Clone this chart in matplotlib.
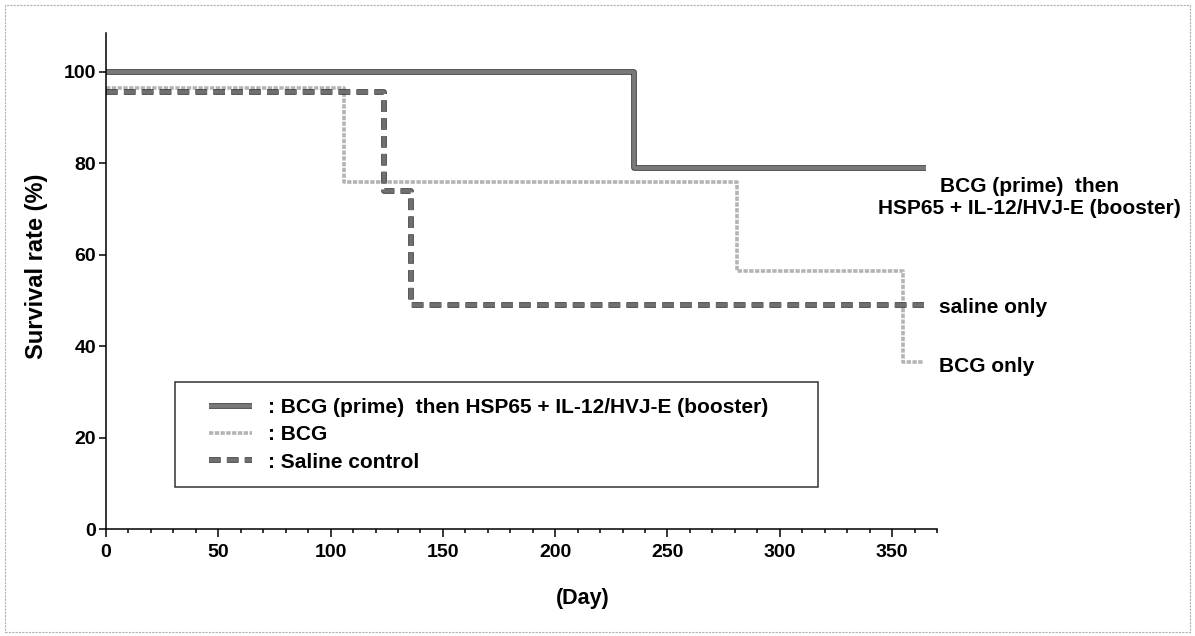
import matplotlib
matplotlib.use("Agg")
import matplotlib.pyplot as plt
import matplotlib.patheffects as pe
from matplotlib.lines import Line2D
from matplotlib.patches import Rectangle
from matplotlib.legend_handler import HandlerLine2D
from matplotlib.ticker import MultipleLocator

# Kaplan-Meier style survival data
vaccine_days = [0, 235, 365]
vaccine_surv = [100, 79, 79]

bcg_days = [0, 106, 281, 355, 364]
bcg_surv = [96.5, 76, 56.5, 36.5, 36.5]

saline_days = [0, 124, 136, 364]
saline_surv = [95.7, 74, 49, 49]

legend_labels = [": BCG (prime)  then HSP65 + IL-12/HVJ-E (booster)",
                 ": BCG",
                 ": Saline control"]

plt.rcParams['font.family'] = ["Liberation Sans", "DejaVu Sans"]
plt.rcParams['font.weight'] = 'bold'

fig = plt.figure(figsize=(11.95, 6.36), dpi=100)
ax = fig.add_axes([0.0887, 0.168, 0.6954, 0.780])

# line styles
solid_kw = dict(color='#7a7a7a', lw=2.8, solid_capstyle='butt',
                path_effects=[pe.Stroke(linewidth=4.0, foreground='#2e2e2e'), pe.Normal()])
bcg_kw = dict(color='#b4b4b4', lw=2.6, linestyle=(0, (1.2, 0.4)))
saline_kw = dict(color='#707070', lw=2.8, linestyle=(0, (3.0, 1.6)), dash_capstyle='butt',
                 path_effects=[pe.Stroke(linewidth=4.0, foreground='#2e2e2e'), pe.Normal()])

ax.step(bcg_days, bcg_surv, where='post', **bcg_kw)
ax.step(saline_days, saline_surv, where='post', **saline_kw)
ax.step(vaccine_days, vaccine_surv, where='post', **solid_kw)

ax.set_xlim(0, 370)
ax.set_ylim(0, 108.5)
ax.xaxis.set_major_locator(MultipleLocator(50))
ax.xaxis.set_minor_locator(MultipleLocator(10))
ax.set_yticks([0, 20, 40, 60, 80, 100])

for s in ['top', 'right']:
    ax.spines[s].set_visible(False)
for s in ['left', 'bottom']:
    ax.spines[s].set_linewidth(1.1)

ax.tick_params(axis='x', which='major', length=6, width=1.1, pad=5, labelsize=14)
ax.tick_params(axis='x', which='minor', length=3, width=1.1)
ax.tick_params(axis='y', which='major', length=5, width=1.1, pad=2, labelsize=14)

ax.set_ylabel("Survival rate (%)", fontsize=17, fontweight='bold')
ax.yaxis.set_label_coords(-0.084, 0.53)
ax.yaxis.label.set_va('center')
ax.set_xlabel("(Day)", fontsize=15.5, fontweight='bold')
ax.xaxis.set_label_coords(0.574, -0.139)
ax.xaxis.label.set_va('center')

# curve labels on the right
ax.text(411, 72.5, "BCG (prime)  then\nHSP65 + IL-12/HVJ-E (booster)", ha='center', va='center',
        fontsize=15, fontweight='bold', clip_on=False, linespacing=1.2)
ax.text(371, 48.5, "saline only", ha='left', va='center', fontsize=15, fontweight='bold', clip_on=False)
ax.text(371, 35.5, "BCG only", ha='left', va='center', fontsize=15, fontweight='bold', clip_on=False)

# legend
handles = [Line2D([], [], **solid_kw), Line2D([], [], **bcg_kw), Line2D([], [], **saline_kw)]
leg = ax.legend(handles, legend_labels, loc='upper left',
                bbox_to_anchor=(0.083, 0.076, 0.774, 0.22), mode='expand',
                fontsize=15, frameon=True, fancybox=False, handlelength=2.95,
                handletextpad=0.75, labelspacing=0.4, borderpad=0.75, borderaxespad=0,
                handler_map={Line2D: HandlerLine2D(xpad=0.9)})
leg.get_frame().set_edgecolor('black')
leg.get_frame().set_linewidth(1.1)
for t in leg.get_texts():
    t.set_fontweight('bold')

# faint page border from the scan
fig.patches.append(Rectangle((0.004, 0.006), 0.992, 0.986, transform=fig.transFigure,
                             fill=False, edgecolor='#b0b0b0', lw=0.8, linestyle=(0, (2, 1))))

fig.savefig("out.png", dpi=100)
